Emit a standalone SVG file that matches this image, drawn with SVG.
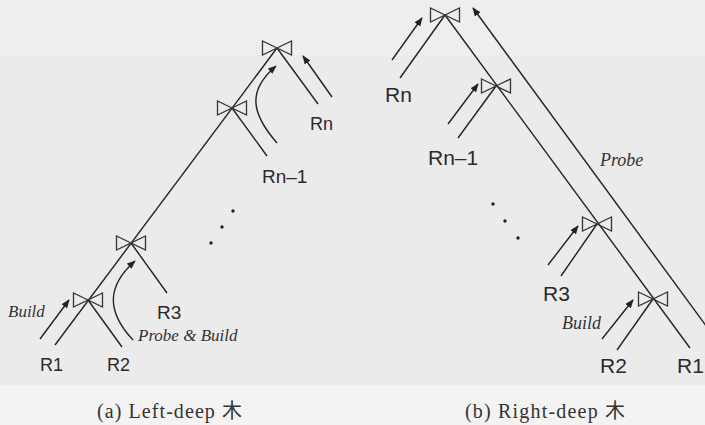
<svg xmlns="http://www.w3.org/2000/svg" width="705" height="425" viewBox="0 0 705 425">
<defs>
<marker id="ah" viewBox="0 0 10 8" refX="9" refY="4" markerWidth="9" markerHeight="7" markerUnits="userSpaceOnUse" orient="auto">
<path d="M0,0 L10,4 L0,8 Z" fill="#222"/>
</marker>
<symbol id="bowtie" overflow="visible">
<path d="M0,0 L-14.5,-7 L-14.5,7 Z M0,0 L14.5,-7 L14.5,7 Z" fill="none" stroke="#333" stroke-width="1.3" stroke-linejoin="miter"/>
</symbol>
</defs>
<style>
.ln{stroke:#222;stroke-width:1.4;fill:none}
.ar{stroke:#222;stroke-width:1.4;fill:none;marker-end:url(#ah)}
.rl{font-family:"Liberation Sans",Arial,sans-serif;fill:#2a2a2a}
.it{font-family:"Liberation Serif","Times New Roman",serif;font-style:italic;fill:#333}
.cap{font-family:"Liberation Serif","Noto Sans CJK JP",serif;fill:#333;font-size:20px}
.dot{fill:#222}
</style>
<rect x="0" y="0" width="705" height="425" fill="#ebebeb"/>
<rect x="0" y="0" width="705" height="55" fill="#eeeeee"/>
<rect x="0" y="385" width="705" height="40" fill="#f3f3f3"/>

<g id="connectors">
<!-- left tree -->
<line class="ln" x1="277" y1="48" x2="55" y2="345"/>
<line class="ln" x1="277" y1="48" x2="318" y2="104"/>
<line class="ln" x1="232" y1="108" x2="267" y2="156"/>
<line class="ln" x1="131" y1="243" x2="167" y2="293"/>
<line class="ln" x1="88" y1="300" x2="122" y2="347"/>
<line class="ar" x1="332" y1="97" x2="303" y2="56"/>
<path class="ar" d="M277,143 C250,112 248,90 276,66"/>
<line class="ar" x1="40" y1="339" x2="69" y2="300"/>
<path class="ar" d="M133,340 C105,310 108,285 135,261"/>
<!-- right tree -->
<line class="ln" x1="445" y1="15" x2="690" y2="348"/>
<line class="ln" x1="445" y1="15" x2="400" y2="78"/>
<line class="ln" x1="496" y1="86" x2="458" y2="138"/>
<line class="ln" x1="597" y1="224" x2="561" y2="276"/>
<line class="ln" x1="653" y1="299" x2="617" y2="350"/>
<line class="ar" x1="715" y1="338" x2="473" y2="8"/>
<line class="ar" x1="392" y1="60" x2="422" y2="18"/>
<line class="ar" x1="448" y1="124" x2="478" y2="84"/>
<line class="ar" x1="548" y1="265" x2="578" y2="226"/>
<line class="ar" x1="602" y1="339" x2="633" y2="300"/>
</g>

<g id="left-join1"><use href="#bowtie" x="277" y="48"/></g>
<g id="left-join2"><use href="#bowtie" x="232" y="108"/></g>
<g id="left-join3"><use href="#bowtie" x="131" y="243"/></g>
<g id="left-join4"><use href="#bowtie" x="88" y="300"/></g>
<g id="right-join1"><use href="#bowtie" x="445" y="15"/></g>
<g id="right-join2"><use href="#bowtie" x="496" y="86"/></g>
<g id="right-join3"><use href="#bowtie" x="597" y="224"/></g>
<g id="right-join4"><use href="#bowtie" x="653" y="299"/></g>

<g id="left-R1"><text class="rl" x="40" y="371" font-size="18">R1</text></g>
<g id="left-R2"><text class="rl" x="107" y="371" font-size="18">R2</text></g>
<g id="left-R3"><text class="rl" x="157" y="319" font-size="19">R3</text></g>
<g id="left-Rn1"><text class="rl" x="262" y="183" font-size="19">Rn–1</text></g>
<g id="left-Rn"><text class="rl" x="310" y="130" font-size="18">Rn</text></g>
<g id="left-labels">
<text class="it" x="8" y="317" font-size="17">Build</text>
<text class="it" x="138" y="341" font-size="17">Probe &amp; Build</text>
</g>
<g id="left-dots">
<circle class="dot" cx="233" cy="211" r="1.7"/>
<circle class="dot" cx="222" cy="227" r="1.7"/>
<circle class="dot" cx="211" cy="243" r="1.7"/>
</g>

<g id="right-Rn"><text class="rl" x="385" y="102" font-size="21">Rn</text></g>
<g id="right-Rn1"><text class="rl" x="428" y="165" font-size="21">Rn–1</text></g>
<g id="right-R3"><text class="rl" x="543" y="301" font-size="21">R3</text></g>
<g id="right-R2"><text class="rl" x="600" y="373" font-size="21">R2</text></g>
<g id="right-R1"><text class="rl" x="677" y="373" font-size="21">R1</text></g>
<g id="right-labels">
<text class="it" x="600" y="166" font-size="18">Probe</text>
<text class="it" x="562" y="329" font-size="18">Build</text>
</g>
<g id="right-dots">
<circle class="dot" cx="493" cy="204" r="1.7"/>
<circle class="dot" cx="505" cy="221" r="1.7"/>
<circle class="dot" cx="518" cy="238" r="1.7"/>
</g>

<g id="captions">
<text class="cap" x="97" y="418" textLength="145" lengthAdjust="spacing">(a) Left-deep 木</text>
<text class="cap" x="465" y="418" textLength="160" lengthAdjust="spacing">(b) Right-deep 木</text>
</g>
</svg>
